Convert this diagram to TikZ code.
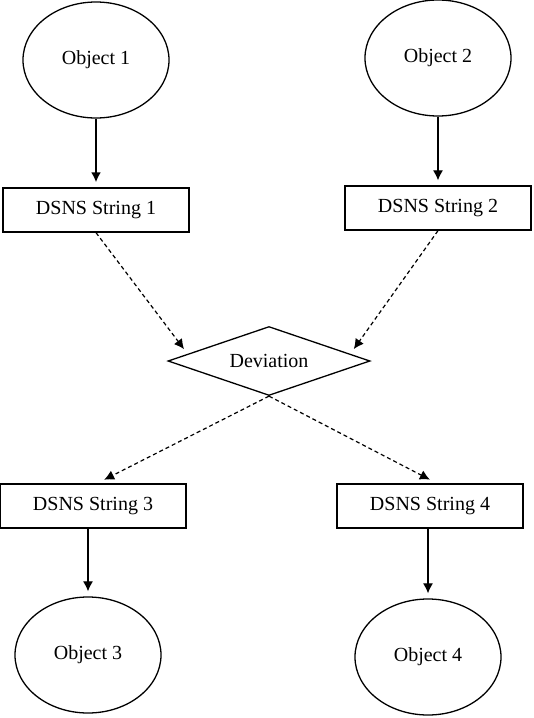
\documentclass[tikz,border=0pt]{standalone}
\usepackage{fontspec}
\setmainfont{Liberation Serif}
\usetikzlibrary{shapes.geometric,arrows.meta,calc}
\tikzset{
	obj/.style={draw, ellipse, line width=0.65pt, inner sep=0pt, minimum width=73pt, minimum height=58pt},
	dsns/.style={draw, rectangle, line width=0.65pt, inner sep=0pt, minimum width=93pt, minimum height=22pt},
	dev/.style={draw, diamond, aspect=2.9, line width=0.65pt, inner sep=0pt, minimum width=101pt, minimum height=34.5pt},
	solidarrow/.style={-{Latex[length=5pt,width=5pt]}, line width=0.6pt, shorten >=2.5pt},
	dasharrow/.style={-{Latex[length=5pt,width=5pt]}, line width=0.6pt, dash pattern=on 2pt off 1.5pt}
}
\begin{document}
\begin{tikzpicture}[x=0.5pt, y=-0.5pt, font=\fontsize{10}{12}\selectfont]
		\useasboundingbox (0,0) rectangle (534,718);
		\node[obj] (o1) at (96,60) {Object 1};
		\node[obj] (o2) at (438,58) {Object 2};
		\node[dsns] (s1) at (96,210) {DSNS String 1};
		\node[dsns] (s2) at (438,208) {DSNS String 2};
		\node[dev] (d) at (269,361) {Deviation};
		\node[dsns] (s3) at (93,506) {DSNS String 3};
		\node[dsns] (s4) at (430,506) {DSNS String 4};
		\node[obj] (o3) at (88,655) {Object 3};
		\node[obj] (o4) at (428,657) {Object 4};
		\coordinate (d1) at ($(d.west)!0.2!(d.north)$);
		\coordinate (d2) at ($(d.east)!0.2!(d.north)$);
		\draw [solidarrow, line width=1pt] (o1.south) -- (o1.south |- s1.north);
		\draw [solidarrow] (o2.south) -- (o2.south |- s2.north);
		\draw [dasharrow, shorten >=3pt] (s1.south) -- (d1);
		\draw [dasharrow, shorten >=3pt] (s2.south) -- (d2);
		\draw [dasharrow, shorten >=4pt] (d.south) -- ([xshift=2pt]s3.north);
		\draw [dasharrow, shorten >=4pt] (d.south) -- ([xshift=3.5pt]s4.north);
		\draw [solidarrow] (s3.south -| o3.north) -- (o3.north);
		\draw [solidarrow] (s4.south -| o4.north) -- (o4.north);
	\end{tikzpicture}
\end{document}
